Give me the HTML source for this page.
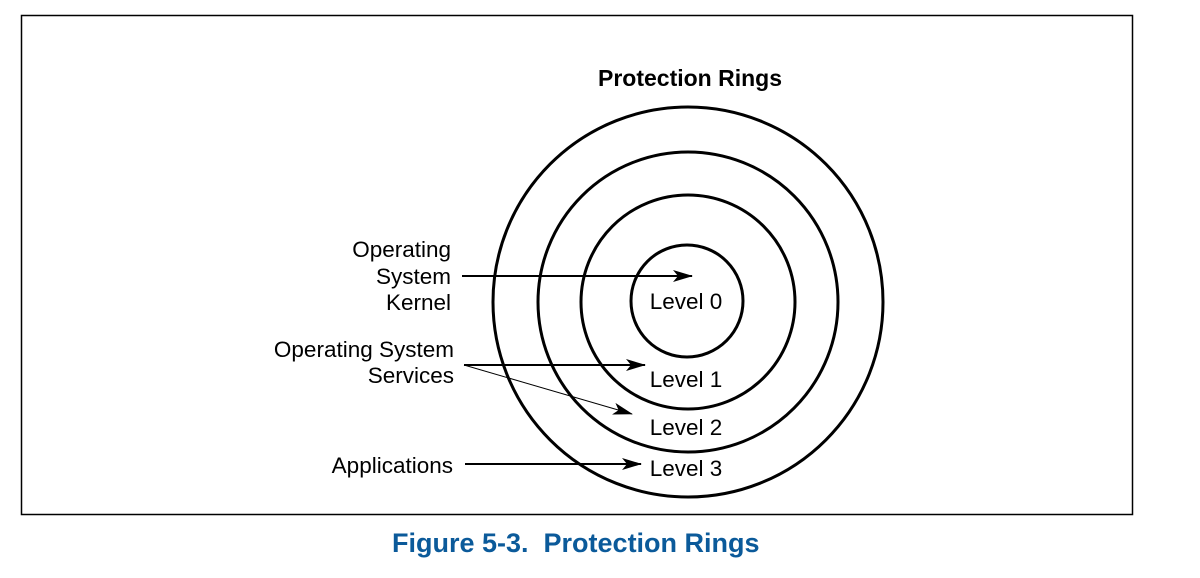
<!DOCTYPE html>
<html><head><style>
body{margin:0;background:#fff;width:1200px;height:573px;overflow:hidden}
</style></head><body>
<svg width="1200" height="573" xmlns="http://www.w3.org/2000/svg" font-family="Liberation Sans, Arial, sans-serif">
<defs><marker id="a" markerWidth="20" markerHeight="12" refX="19" refY="6" orient="auto" markerUnits="userSpaceOnUse"><path d="M0,0 L20,6 L0,12 L5,6 Z" fill="#000"/></marker></defs>
<rect x="21.5" y="15.5" width="1111" height="499" fill="none" stroke="#000" stroke-width="1.5"/>
<text x="690" y="86" font-size="23" font-weight="bold" text-anchor="middle">Protection Rings</text>
<g fill="none" stroke="#000" stroke-width="3">
<circle cx="688" cy="302" r="195"/>
<circle cx="688" cy="302" r="150"/>
<circle cx="688" cy="302" r="107"/>
<circle cx="687" cy="301" r="56"/>
</g>
<g font-size="22.5" text-anchor="middle">
<text x="686" y="309">Level 0</text>
<text x="686" y="387">Level 1</text>
<text x="686" y="435">Level 2</text>
<text x="686" y="476">Level 3</text>
</g>
<g font-size="22.5" text-anchor="end">
<text x="451" y="257">Operating</text>
<text x="451" y="284">System</text>
<text x="451" y="310">Kernel</text>
<text x="454" y="357">Operating System</text>
<text x="454" y="383">Services</text>
<text x="453" y="473">Applications</text>
</g>
<g stroke="#000" stroke-width="2" fill="none">
<line x1="462" y1="276" x2="692" y2="276" marker-end="url(#a)"/>
<line x1="464" y1="365" x2="645" y2="365" marker-end="url(#a)"/>
<line x1="464" y1="365" x2="632" y2="414" stroke-width="1" marker-end="url(#a)"/>
<line x1="465" y1="464" x2="641" y2="464" marker-end="url(#a)"/>
</g>
<text x="392" y="552" font-size="27" font-weight="bold" fill="#0b5a9a" xml:space="preserve" style="white-space:pre">Figure 5-3.  Protection Rings</text>
</svg>
</body></html>
